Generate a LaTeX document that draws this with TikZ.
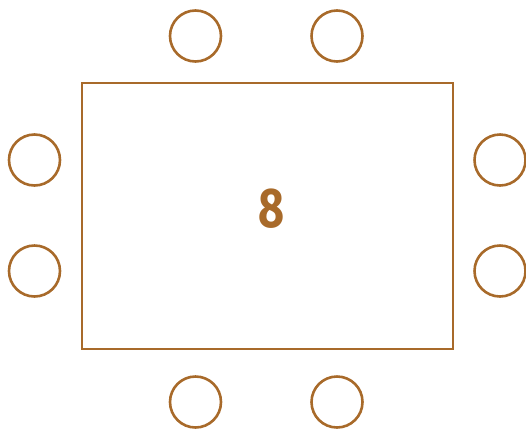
\documentclass[tikz,border=0pt]{standalone}
\usepackage{fontspec}
\setmainfont{Fira Sans}
\definecolor{brn}{HTML}{A86A2A}
\begin{document}
\begin{tikzpicture}[x=1pt,y=-1pt,
  seat/.style={circle,draw=brn,line width=2.6pt,minimum size=51pt,inner sep=0pt},
  tablebox/.style={draw=brn,line width=2.6pt}]
\useasboundingbox (0,0) rectangle (526,429);
\draw[tablebox] (82,83) rectangle (453,349);
\node[text=brn,font=\fontsize{56}{60}\selectfont\bfseries] (num) at (272,209) {\scalebox{0.8}[1]{8}};
\node[seat] (t1) at (195.5,36) {};
\node[seat] (t2) at (337,36) {};
\node[seat] (b1) at (195.5,402) {};
\node[seat] (b2) at (337,402) {};
\node[seat] (l1) at (34.5,160) {};
\node[seat] (l2) at (34.5,271) {};
\node[seat] (r1) at (500,160) {};
\node[seat] (r2) at (500,271) {};
\end{tikzpicture}
\end{document}
